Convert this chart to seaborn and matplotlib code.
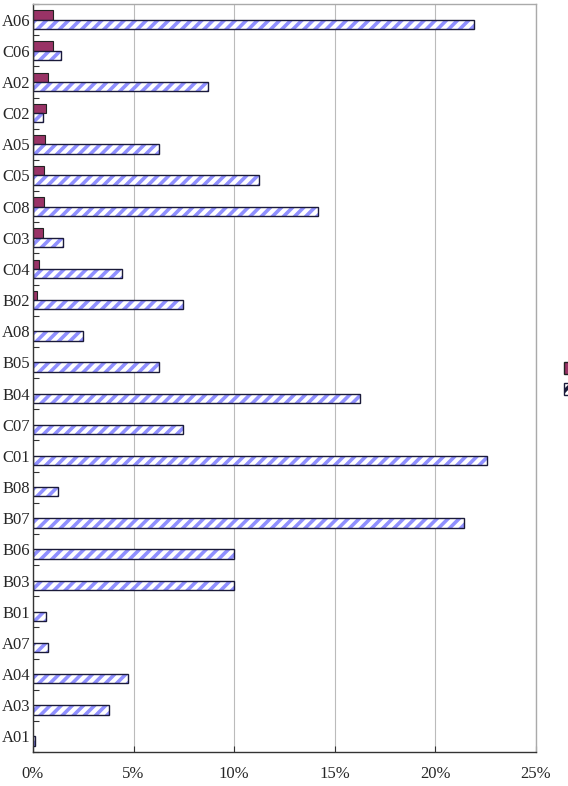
import numpy as np
import pandas as pd
import matplotlib
matplotlib.use('Agg')
import matplotlib.pyplot as plt
import matplotlib.colors as mcolors
from matplotlib.patches import Patch
from matplotlib.ticker import FuncFormatter, FixedLocator
import seaborn as sns

# categories top -> bottom
codes = ['A06', 'C06', 'A02', 'C02', 'A05', 'C05', 'C08', 'C03', 'C04', 'B02', 'A08', 'B05',
         'B04', 'C07', 'C01', 'B08', 'B07', 'B06', 'B03', 'B01', 'A07', 'A04', 'A03', 'A01']
# solid maroon series (percent)
solid_vals = [1.0, 1.0, 0.76, 0.65, 0.6, 0.53, 0.53, 0.48, 0.28, 0.18, 0, 0,
              0, 0, 0, 0, 0, 0, 0, 0, 0, 0, 0, 0]
# hatched series (percent)
hatched_vals = [21.9, 1.39, 8.7, 0.48, 6.25, 11.24, 14.18, 1.51, 4.41, 7.48, 2.47, 6.25,
                16.27, 7.48, 22.54, 1.23, 21.4, 10.0, 10.0, 0.65, 0.76, 4.74, 3.77, 0.12]
series_names = ['Series 1', 'Series 2']

maroon = '#993366'
stripe = '#9090FF'

df = pd.DataFrame({
    'code': codes * 2,
    'value': solid_vals + hatched_vals,
    'series': [series_names[0]] * len(codes) + [series_names[1]] * len(codes),
})

sns.set_style('white')
plt.rcParams['font.family'] = ['Liberation Serif', 'DejaVu Serif']
plt.rcParams['hatch.linewidth'] = 2.6

fig = plt.figure(figsize=(5.68, 7.86), dpi=100)
ax = fig.add_axes([33 / 568, 1 - 752 / 786, (536 - 33) / 568, (752 - 4) / 786])

sns.barplot(data=df, x='value', y='code', hue='series', hue_order=series_names,
            order=codes, orient='h', palette=[maroon, 'white'], width=0.6,
            dodge=True, legend=False, ax=ax, saturation=1)

# solid bars: thin dark outline
for bar in ax.containers[0]:
    bar.set_edgecolor('#222222')
    bar.set_linewidth(0.8)
    if bar.get_width() == 0:
        bar.set_visible(False)

# hatched bars: stripes + dark outline
for bar in ax.containers[1]:
    bar.set_facecolor('white')
    bar.set_edgecolor('#1a1a3a')
    bar.set_linewidth(1.0)
    bar.set_hatch('///')
    bar._hatch_color = mcolors.to_rgba(stripe)

ax.set_xlim(0, 25)
ax.set_ylim(len(codes) - 0.5, -0.5)
ax.set_xticks([0, 5, 10, 15, 20, 25])
ax.xaxis.set_major_formatter(FuncFormatter(lambda v, p: f'{v:.0f}%'))
ax.set_xlabel('')
ax.set_ylabel('')

ax.grid(axis='x', color='#bbbbbb', linewidth=0.8)
ax.set_axisbelow(True)

ax.yaxis.set_minor_locator(FixedLocator(np.arange(-0.5, len(codes), 1)))
ax.tick_params(axis='y', which='major', length=0, labelsize=12, pad=2)
ax.tick_params(axis='y', which='minor', direction='in', length=4, width=0.8, color='#333333', left=True)
ax.tick_params(axis='x', which='major', direction='in', length=4, width=0.8, color='#333333',
               labelsize=12, pad=10, bottom=True)

for side in ['left', 'bottom']:
    ax.spines[side].set_color('#333333')
    ax.spines[side].set_linewidth(1.0)
for side in ['top', 'right']:
    ax.spines[side].set_color('#aaaaaa')
    ax.spines[side].set_linewidth(1.0)

# legend sits beyond the right edge of the picture, only the keys peek in
handles = [Patch(facecolor=maroon, edgecolor='#222222'),
           Patch(facecolor='white', edgecolor='#1a1a3a', hatch='///')]
fig.legend(handles, ['', ''], loc='center left', bbox_to_anchor=(564 / 568, 1 - 380 / 786),
           frameon=False, fontsize=11, handlelength=1.0, handleheight=0.8,
           borderaxespad=0, borderpad=0, labelspacing=0.45)

fig.savefig('out.png', dpi=100)
